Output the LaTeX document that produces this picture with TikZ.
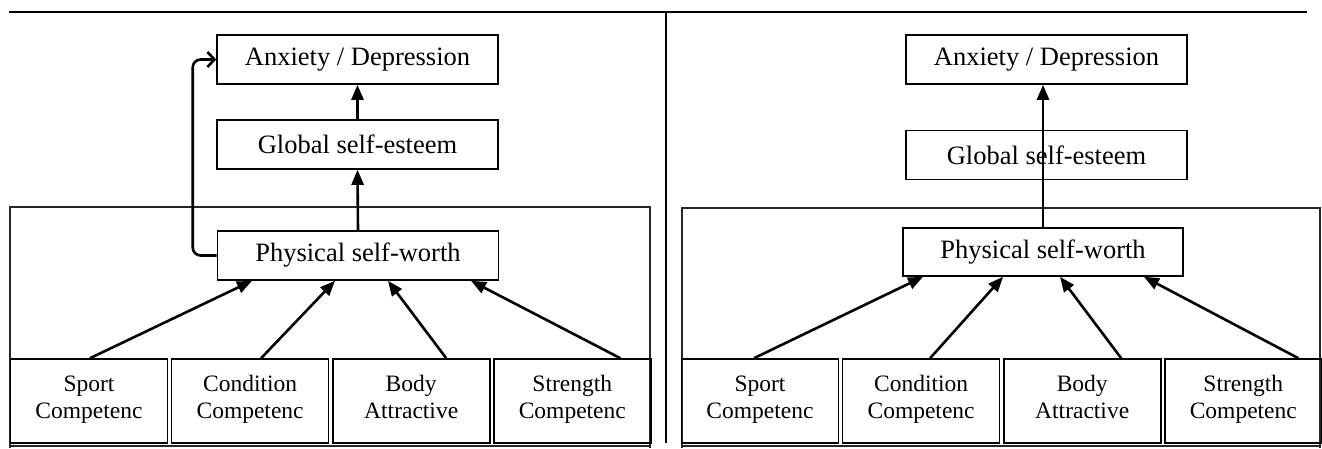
\documentclass[tikz,border=0pt]{standalone}
\usepackage{fontspec}
\setmainfont{Liberation Serif}
\usetikzlibrary{arrows.meta, positioning}

\begin{document}
\begin{tikzpicture}[x=1pt, y=-1pt,
  box/.style={draw, line width=1.6pt, minimum width=281pt, minimum height=49pt,
    inner sep=0pt, font=\fontsize{26.5}{30}\selectfont},
  facet/.style={draw, line width=1.6pt, minimum width=157pt, minimum height=84pt,
    inner sep=0pt, align=center, font=\fontsize{23.5}{27}\selectfont,
    execute at begin node=\strut, execute at end node=\strut},
  link/.style={-{Triangle[length=15pt,width=12pt]}, line width=2.6pt},
  feedback/.style={-{Straight Barb[length=7pt,width=15pt,line width=2.6pt]}, line width=2.6pt, rounded corners=8pt},
  frame/.style={line width=1.2pt, black!85},
  rule/.style={line width=1.8pt}]

  \useasboundingbox (0,0) rectangle (1322,448);

  % PAGE RULES
  \draw[rule] (9,12) -- (1307,12);
  \draw[rule] (666,12) -- (666,443);

  %
  % LEFT MODEL
  \draw[frame] (10,448) |- (650,207) -- (650,448);
  \draw[frame] (10,446) -- (650,446);
  \node[box] (lanx)  at (357.5,59.5)  {Anxiety / Depression};
  \node[box] (lglob) at (357.5,144.5) {Global self-esteem};
  \node[box] (lphys) at (358,255.5)   {Physical self-worth};
  %
  % LEFT MODEL: DOMAINS
  \node[facet] (lsport) at (89,401)         {Sport\\Competenc};
  \node[facet, right=2.5pt of lsport] (lcond)  {Condition\\Competenc};
  \node[facet, right=2.5pt of lcond]  (lbody)  {Body\\Attractive};
  \node[facet, right=2.5pt of lbody]  (lstren) {Strength\\Competenc};
  %
  % LEFT MODEL: PATHS
  \draw[link] ([xshift=1pt]lsport.north)  -- ([xshift=-106pt]lphys.south);
  \draw[link] ([xshift=11pt]lcond.north)  -- ([xshift=-23pt]lphys.south);
  \draw[link] ([xshift=35pt]lbody.north)  -- ([xshift=30pt]lphys.south);
  \draw[link] ([xshift=48pt]lstren.north) -- ([xshift=113pt]lphys.south);
  \draw[link] (lphys.north) -- (lglob.south);
  \draw[link] (lglob.north) -- (lanx.south);
  \draw[feedback] (lphys.west) -- ++(-24,0) |- (lanx.west);

  %
  % RIGHT MODEL
  \draw[frame] (682,448) |- (1320,208) -- (1320,448);
  \draw[frame] (682,446) -- (1320,446);
  \node[box] (ranx)  at (1046.5,59.5) {Anxiety / Depression};
  \node[box] (rglob) at (1046.5,155)  {Global self-esteem};
  \node[box, minimum width=280pt, minimum height=48pt] (rphys) at (1043,252) {Physical self-worth};
  %
  % RIGHT MODEL: DOMAINS
  \node[facet] (rsport) at (760,401)        {Sport\\Competenc};
  \node[facet, right=2.5pt of rsport] (rcond)  {Condition\\Competenc};
  \node[facet, right=2.5pt of rcond]  (rbody)  {Body\\Attractive};
  \node[facet, right=2.5pt of rbody]  (rstren) {Strength\\Competenc};
  %
  % RIGHT MODEL: PATHS
  \draw[link] ([xshift=-6pt]rsport.north) -- ([xshift=-120pt]rphys.south);
  \draw[link] ([xshift=9pt]rcond.north)   -- ([xshift=-40pt]rphys.south);
  \draw[link] ([xshift=39pt]rbody.north)  -- ([xshift=17pt]rphys.south);
  \draw[link] ([xshift=55pt]rstren.north) -- ([xshift=101pt]rphys.south);
  \draw[link] (rphys.north) -- (rphys.north |- ranx.south);

\end{tikzpicture}
\end{document}
